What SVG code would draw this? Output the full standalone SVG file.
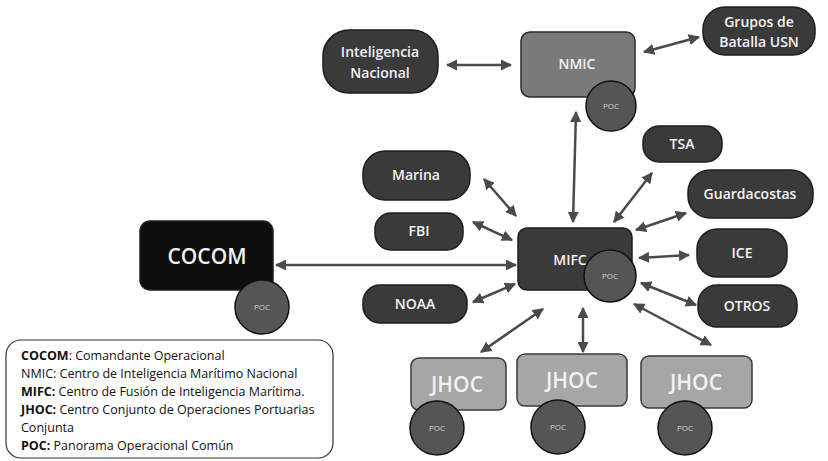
<svg xmlns="http://www.w3.org/2000/svg" width="828" height="461" viewBox="0 0 828 461">
<defs>
<marker id="ah" viewBox="0 0 10 10" refX="9" refY="5" markerWidth="4.5" markerHeight="4.5" orient="auto-start-reverse" markerUnits="strokeWidth">
<path d="M0,0 L10,5 L0,10 z" fill="#4a4a4a"/>
</marker>
<style>
.dk{fill:#3a3a3a;stroke:#1e1e1e;stroke-width:1.5}
.bk{fill:#0d0d0d;stroke:#1e1e1e;stroke-width:1.5}
.md{fill:#7a7a7a;stroke:#2a2a2a;stroke-width:1.5}
.lt{fill:#a6a6a6;stroke:#3a3a3a;stroke-width:1.5}
.poc{fill:#555555;stroke:#111;stroke-width:1.5}
.t{font-family:"Open Sans","Liberation Sans",sans-serif;fill:#f2f2f2;text-anchor:middle;font-weight:600}
.n{font-size:14px}
.p{font-size:8px;fill:#d0d0d0;font-weight:normal}
.big{font-size:21px}
.c line{stroke:#4a4a4a;stroke-width:2.5;marker-start:url(#ah);marker-end:url(#ah)}
.lg{font-family:"Open Sans","Liberation Sans",sans-serif;font-size:12.5px;fill:#111}
</style>
</defs>
<rect width="828" height="461" fill="#ffffff"/>

<g class="c" id="connectors">
<line x1="447" y1="65" x2="511" y2="65"/>
<line x1="644" y1="52" x2="699" y2="37"/>
<line x1="576" y1="112" x2="573" y2="222"/>
<line x1="276" y1="265" x2="516" y2="265"/>
<line x1="484" y1="179" x2="516" y2="216"/>
<line x1="473" y1="222" x2="512" y2="240"/>
<line x1="473" y1="302" x2="515" y2="284"/>
<line x1="652" y1="173" x2="614" y2="222"/>
<line x1="686" y1="213" x2="636" y2="230"/>
<line x1="689" y1="255" x2="639" y2="258"/>
<line x1="696" y1="305" x2="641" y2="283"/>
<line x1="543" y1="309" x2="481" y2="352"/>
<line x1="583" y1="308" x2="583" y2="352"/>
<line x1="634" y1="304" x2="711" y2="345"/>
</g>

<g id="inteligencia">
<rect class="dk" x="323" y="30" width="115" height="63" rx="26"/>
<text class="t n" x="380" y="57">Inteligencia</text>
<text class="t n" x="380" y="78">Nacional</text>
</g>

<g id="grupos">
<rect class="dk" x="703" y="7" width="112" height="48" rx="22"/>
<text class="t n" x="759" y="27">Grupos de</text>
<text class="t n" x="759" y="47">Batalla USN</text>
</g>

<g id="nmic">
<rect class="md" x="521" y="32" width="114" height="65" rx="9"/>
<text class="t n" x="577" y="69">NMIC</text>
<circle class="poc" cx="611" cy="106" r="25"/>
<text class="t p" x="611" y="109">POC</text>
</g>

<g id="tsa">
<rect class="dk" x="643" y="126" width="79" height="36" rx="16"/>
<text class="t n" x="682" y="149">TSA</text>
</g>

<g id="marina">
<rect class="dk" x="363" y="151" width="107" height="49" rx="22"/>
<text class="t n" x="416" y="180">Marina</text>
</g>

<g id="guardacostas">
<rect class="dk" x="688" y="170" width="125" height="48" rx="22"/>
<text class="t n" x="750" y="199">Guardacostas</text>
</g>

<g id="fbi">
<rect class="dk" x="375" y="213" width="88" height="37" rx="16"/>
<text class="t n" x="419" y="236">FBI</text>
</g>

<g id="ice">
<rect class="dk" x="697" y="229" width="90" height="48" rx="20"/>
<text class="t n" x="742" y="258">ICE</text>
</g>

<g id="cocom">
<rect class="bk" x="140" y="221" width="133" height="69" rx="10"/>
<text class="t big" x="207" y="264">COCOM</text>
<circle class="poc" cx="262" cy="307" r="27"/>
<text class="t p" x="262" y="310">POC</text>
</g>

<g id="mifc">
<rect class="dk" x="518" y="228" width="114" height="62" rx="9"/>
<text class="t n" x="570" y="265">MIFC</text>
<circle class="poc" cx="610" cy="276" r="26"/>
<text class="t p" x="610" y="279">POC</text>
</g>

<g id="noaa">
<rect class="dk" x="363" y="285" width="104" height="38" rx="17"/>
<text class="t n" x="415" y="309">NOAA</text>
</g>

<g id="otros">
<rect class="dk" x="698" y="285" width="99" height="42" rx="19"/>
<text class="t n" x="747" y="311">OTROS</text>
</g>

<g id="jhoc1">
<rect class="lt" x="411" y="358" width="95" height="52" rx="8"/>
<text class="t big" x="457" y="392">JHOC</text>
<circle class="poc" cx="437" cy="428" r="27"/>
<text class="t p" x="437" y="431">POC</text>
</g>

<g id="jhoc2">
<rect class="lt" x="517" y="354" width="110" height="52" rx="8"/>
<text class="t big" x="572" y="388">JHOC</text>
<circle class="poc" cx="558" cy="427" r="27"/>
<text class="t p" x="558" y="430">POC</text>
</g>

<g id="jhoc3">
<rect class="lt" x="641" y="356" width="111" height="52" rx="8"/>
<text class="t big" x="696" y="390">JHOC</text>
<circle class="poc" cx="685" cy="428" r="27"/>
<text class="t p" x="685" y="431">POC</text>
</g>

<g id="legend">
<rect x="6" y="340" width="327" height="118" rx="15" fill="#ffffff" stroke="#333" stroke-width="1.2"/>
<text class="lg" x="21" y="360"><tspan font-weight="bold">COCOM</tspan>: Comandante Operacional</text>
<text class="lg" x="21" y="378">NMIC: Centro de Inteligencia Marítimo Nacional</text>
<text class="lg" x="21" y="396"><tspan font-weight="bold">MIFC:</tspan> Centro de Fusión de Inteligencia Marítima.</text>
<text class="lg" x="21" y="414"><tspan font-weight="bold">JHOC:</tspan> Centro Conjunto de Operaciones Portuarias</text>
<text class="lg" x="21" y="432">Conjunta</text>
<text class="lg" x="21" y="450"><tspan font-weight="bold">POC:</tspan> Panorama Operacional Común</text>
</g>
</svg>
